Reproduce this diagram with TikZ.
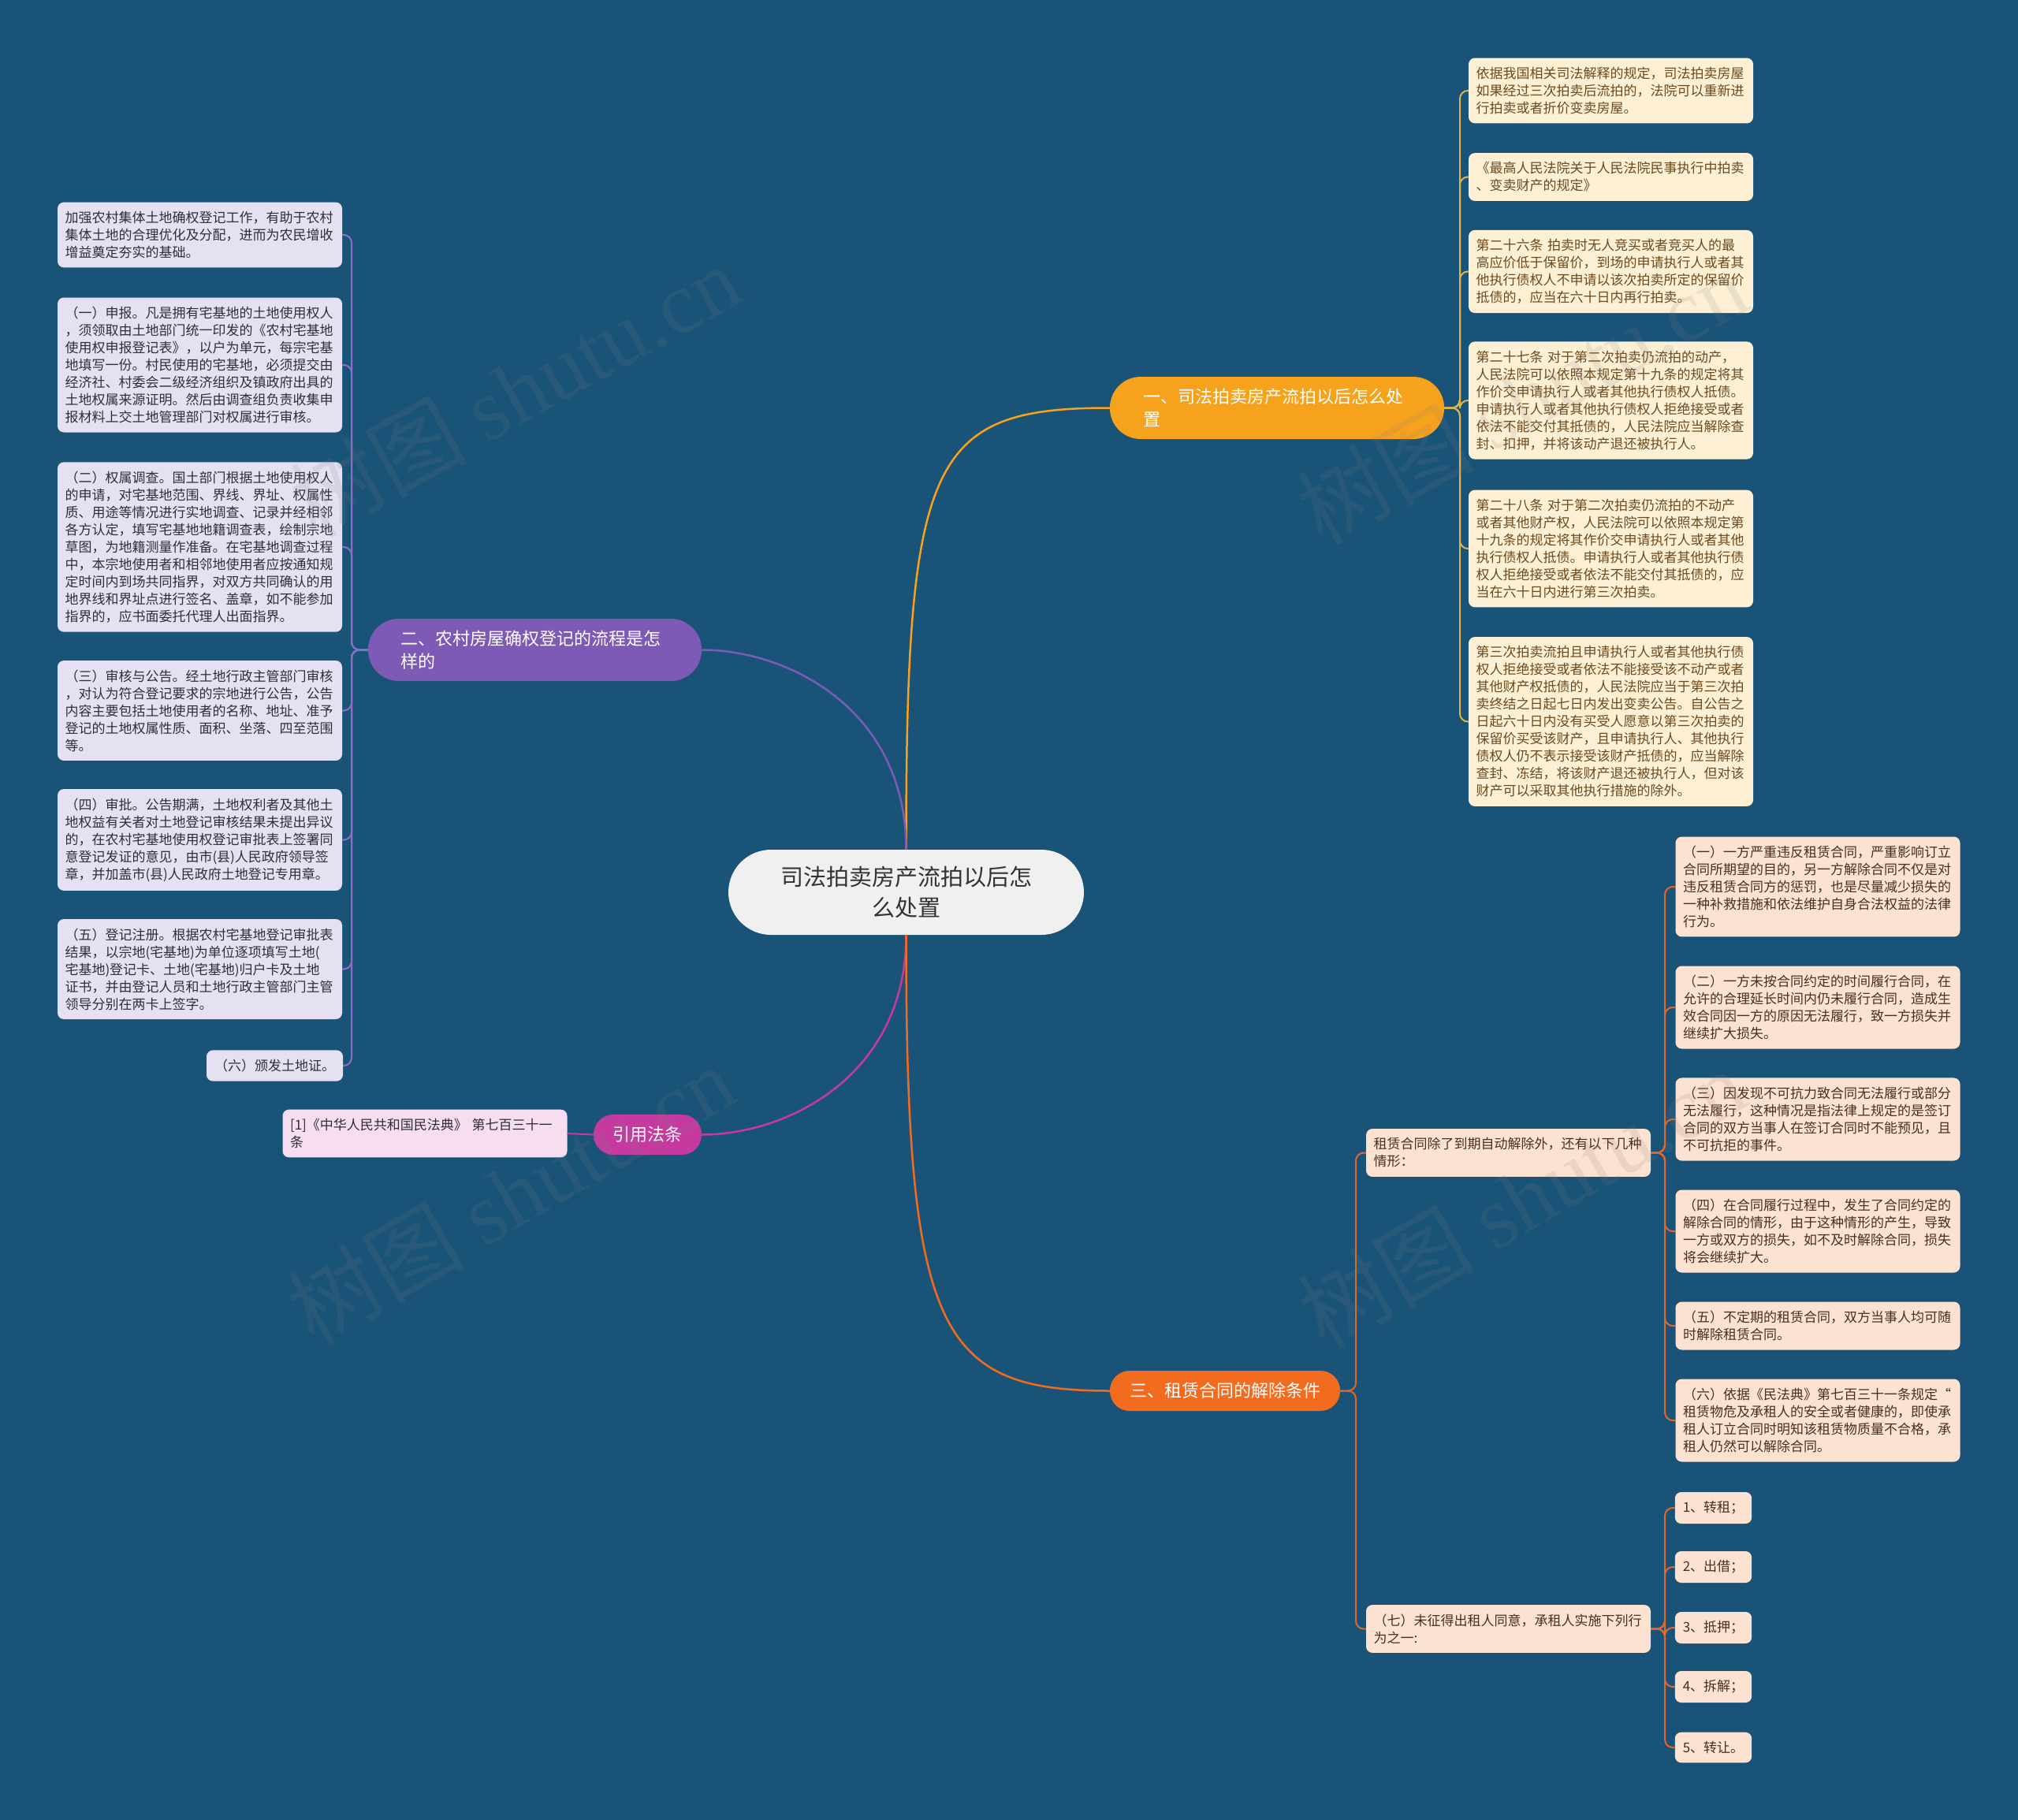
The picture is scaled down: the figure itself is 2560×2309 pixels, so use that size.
\documentclass[tikz,border=0pt]{standalone}
\usepackage{fontspec}
\setmainfont{Noto Sans CJK SC}
\newfontfamily\wmserif{Liberation Serif}
\definecolor{bg}{HTML}{1A5378}
\definecolor{brO}{HTML}{F7A21C}
\definecolor{brP}{HTML}{7D5AB5}
\definecolor{brM}{HTML}{C53A9F}
\definecolor{brR}{HTML}{F26B1F}
\definecolor{lnO}{HTML}{DDB54A}
\definecolor{lnP}{HTML}{8E6CC8}
\definecolor{lnR}{HTML}{E5662A}
\definecolor{lfO}{HTML}{FDF0D5}
\definecolor{lfP}{HTML}{E6E1F2}
\definecolor{lfM}{HTML}{F6DDEF}
\definecolor{lfR}{HTML}{FDE2D1}
\definecolor{txO}{HTML}{6B4A1E}
\definecolor{txP}{HTML}{2E2E3A}
\definecolor{txR}{HTML}{4B2E1E}
\definecolor{ctr}{HTML}{F0F0F0}
\begin{document}
\begin{tikzpicture}[x=1pt,y=-1pt,
  leafbase/.style={rounded corners=8pt, inner xsep=9.5pt, inner ysep=11.5pt, text width=342pt, align=left, font=\fontsize{17pt}{22pt}\selectfont, anchor=center},
  leafO/.style={leafbase, fill=lfO, text=txO},
  leafP/.style={leafbase, fill=lfP, text=txP},
  leafM/.style={leafbase, fill=lfM, text=txP},
  leafR/.style={leafbase, fill=lfR, text=txR},
  smallR/.style={leafR, text width=, minimum width=97pt, inner xsep=10pt, align=left},
  branch/.style={text=white, font=\fontsize{22pt}{29pt}\selectfont, inner sep=0pt, anchor=center},
  centerbox/.style={fill=ctr, text=black!80, rounded corners=54pt, minimum width=451pt, minimum height=108pt, align=center, inner sep=0pt, font=\fontsize{29pt}{39pt}\selectfont},
  mainline/.style={line width=2.5pt},
  leafline/.style={line width=2pt, rounded corners=10pt},
  wm/.style={text=gray, opacity=0.15, font=\fontsize{112pt}{118pt}\selectfont, inner sep=0pt}
]
\useasboundingbox (0,0) rectangle (2560,2309);
\fill[bg] (0,0) rectangle (2560,2309);

% center
\node[centerbox] (C) at (1149.5,1132) {司法拍卖房产流拍以后怎\\么处置};

% branches
\node[branch, fill=brO, text width=340pt, align=left, minimum width=424pt, minimum height=79pt, rounded corners=39pt] (B1) at (1620,517.5) {一、司法拍卖房产流拍以后怎么处\\置};
\node[branch, fill=brP, text width=340pt, align=left, minimum width=423pt, minimum height=79pt, rounded corners=39pt] (B2) at (678.5,824.5) {二、农村房屋确权登记的流程是怎\\样的};
\node[branch, fill=brM, minimum width=137pt, minimum height=51pt, rounded corners=25pt] (B4) at (821.5,1439.5) {引用法条};
\node[branch, fill=brR, minimum width=292pt, minimum height=51pt, rounded corners=25pt] (B3) at (1554,1764.5) {三、租赁合同的解除条件};

% main connectors
\draw[mainline, brO] (C.north) .. controls (1149.5,580) and (1180,517.5) .. (B1.west);
\draw[mainline, brP] (C.north) .. controls (1149.5,900) and (1000,824.5) .. (B2.east);
\draw[mainline, brM] (C.south) .. controls (1149.5,1364) and (1000,1439.5) .. (B4.east);
\draw[mainline, brR] (C.south) .. controls (1149.5,1690) and (1190,1764.5) .. (B3.west);

% orange leaves
\node[leafO] (L1) at (2043.5,115) {依据我国相关司法解释的规定，司法拍卖房屋\\如果经过三次拍卖后流拍的，法院可以重新进\\行拍卖或者折价变卖房屋。};
\node[leafO] (L2) at (2043.5,224.5) {《最高人民法院关于人民法院民事执行中拍卖\\、变卖财产的规定》};
\node[leafO] (L3) at (2043.5,344.5) {第二十六条 拍卖时无人竞买或者竞买人的最\\高应价低于保留价，到场的申请执行人或者其\\他执行债权人不申请以该次拍卖所定的保留价\\抵债的，应当在六十日内再行拍卖。};
\node[leafO] (L4) at (2043.5,508) {第二十七条 对于第二次拍卖仍流拍的动产，\\人民法院可以依照本规定第十九条的规定将其\\作价交申请执行人或者其他执行债权人抵债。\\申请执行人或者其他执行债权人拒绝接受或者\\依法不能交付其抵债的，人民法院应当解除查\\封、扣押，并将该动产退还被执行人。};
\node[leafO] (L5) at (2043.5,696) {第二十八条 对于第二次拍卖仍流拍的不动产\\或者其他财产权，人民法院可以依照本规定第\\十九条的规定将其作价交申请执行人或者其他\\执行债权人抵债。申请执行人或者其他执行债\\权人拒绝接受或者依法不能交付其抵债的，应\\当在六十日内进行第三次拍卖。};
\node[leafO] (L6) at (2043.5,915.5) {第三次拍卖流拍且申请执行人或者其他执行债\\权人拒绝接受或者依法不能接受该不动产或者\\其他财产权抵债的，人民法院应当于第三次拍\\卖终结之日起七日内发出变卖公告。自公告之\\日起六十日内没有买受人愿意以第三次拍卖的\\保留价买受该财产，且申请执行人、其他执行\\债权人仍不表示接受该财产抵债的，应当解除\\查封、冻结，将该财产退还被执行人，但对该\\财产可以采取其他执行措施的除外。};
\foreach \n in {L1,L2,L3,L4,L5,L6}
  \draw[leafline, lnO] (B1.east) -- (1852,517.5) |- (\n.west);

% purple leaves
\node[leafP] (P1) at (253.5,298) {加强农村集体土地确权登记工作，有助于农村\\集体土地的合理优化及分配，进而为农民增收\\增益奠定夯实的基础。};
\node[leafP] (P2) at (253.5,463) {（一）申报。凡是拥有宅基地的土地使用权人\\，须领取由土地部门统一印发的《农村宅基地\\使用权申报登记表》，以户为单元，每宗宅基\\地填写一份。村民使用的宅基地，必须提交由\\经济社、村委会二级经济组织及镇政府出具的\\土地权属来源证明。然后由调查组负责收集申\\报材料上交土地管理部门对权属进行审核。};
\node[leafP] (P3) at (253.5,694) {（二）权属调查。国土部门根据土地使用权人\\的申请，对宅基地范围、界线、界址、权属性\\质、用途等情况进行实地调查、记录并经相邻\\各方认定，填写宅基地地籍调查表，绘制宗地\\草图，为地籍测量作准备。在宅基地调查过程\\中，本宗地使用者和相邻地使用者应按通知规\\定时间内到场共同指界，对双方共同确认的用\\地界线和界址点进行签名、盖章，如不能参加\\指界的，应书面委托代理人出面指界。};
\node[leafP] (P4) at (253.5,901.5) {（三）审核与公告。经土地行政主管部门审核\\，对认为符合登记要求的宗地进行公告，公告\\内容主要包括土地使用者的名称、地址、准予\\登记的土地权属性质、面积、坐落、四至范围\\等。};
\node[leafP] (P5) at (253.5,1065.5) {（四）审批。公告期满，土地权利者及其他土\\地权益有关者对土地登记审核结果未提出异议\\的，在农村宅基地使用权登记审批表上签署同\\意登记发证的意见，由市(县)人民政府领导签\\章，并加盖市(县)人民政府土地登记专用章。};
\node[leafP] (P6) at (253.5,1229.5) {（五）登记注册。根据农村宅基地登记审批表\\结果，以宗地(宅基地)为单位逐项填写土地(\\宅基地)登记卡、土地(宅基地)归户卡及土地\\证书，并由登记人员和土地行政主管部门主管\\领导分别在两卡上签字。};
\node[leafP, text width=, minimum width=171pt, inner xsep=10pt] (P7) at (348.5,1352) {（六）颁发土地证。};
\foreach \n in {P1,P2,P3,P4,P5,P6,P7}
  \draw[leafline, lnP] (B2.west) -- (446,824.5) |- (\n.east);

% magenta leaf
\node[leafM] (ML) at (539,1438) {[1]《中华人民共和国民法典》 第七百三十一\\条};
\draw[line width=2pt, brM] (B4.west) -- (ML.east);

% red branch
\node[leafR] (M1) at (1913.5,1462.5) {租赁合同除了到期自动解除外，还有以下几种\\情形：};
\node[leafR] (M2) at (1913.5,2066.5) {（七）未征得出租人同意，承租人实施下列行\\为之一:};
\foreach \n in {M1,M2}
  \draw[leafline, lnR] (B3.east) -- (1720,1764.5) |- (\n.west);

\node[leafR] (R1) at (2306,1125) {（一）一方严重违反租赁合同，严重影响订立\\合同所期望的目的，另一方解除合同不仅是对\\违反租赁合同方的惩罚，也是尽量减少损失的\\一种补救措施和依法维护自身合法权益的法律\\行为。};
\node[leafR] (R2) at (2306,1278) {（二）一方未按合同约定的时间履行合同，在\\允许的合理延长时间内仍未履行合同，造成生\\效合同因一方的原因无法履行，致一方损失并\\继续扩大损失。};
\node[leafR] (R3) at (2306,1420) {（三）因发现不可抗力致合同无法履行或部分\\无法履行，这种情况是指法律上规定的是签订\\合同的双方当事人在签订合同时不能预见，且\\不可抗拒的事件。};
\node[leafR] (R4) at (2306,1562) {（四）在合同履行过程中，发生了合同约定的\\解除合同的情形，由于这种情形的产生，导致\\一方或双方的损失，如不及时解除合同，损失\\将会继续扩大。};
\node[leafR] (R5) at (2306,1682) {（五）不定期的租赁合同，双方当事人均可随\\时解除租赁合同。};
\node[leafR] (R6) at (2306,1802) {（六）依据《民法典》第七百三十一条规定“\\租赁物危及承租人的安全或者健康的，即使承\\租人订立合同时明知该租赁物质量不合格，承\\租人仍然可以解除合同。};
\foreach \n in {R1,R2,R3,R4,R5,R6}
  \draw[leafline, lnR] (M1.east) -- (2112,1462.5) |- (\n.west);

\node[smallR] (S1) at (2173.5,1913) {1、转租；};
\node[smallR] (S2) at (2173.5,1988) {2、出借；};
\node[smallR] (S3) at (2173.5,2065) {3、抵押；};
\node[smallR] (S4) at (2173.5,2140) {4、拆解；};
\node[smallR] (S5) at (2173.5,2217) {5、转让。};
\foreach \n in {S1,S2,S3,S4,S5}
  \draw[leafline, lnR] (M2.east) -- (2112,2066.5) |- (\n.west);

% watermarks
\node[wm, rotate=29] (W1) at (653,495) {树图 {\wmserif shutu.cn}};
\node[wm, rotate=29] (W2) at (1930,505) {树图 {\wmserif shutu.cn}};
\node[wm, rotate=30] (W3) at (648,1515) {树图 {\wmserif shutu.cn}};
\node[wm, rotate=30] (W4) at (1930,1520) {树图 {\wmserif shutu.cn}};
\end{tikzpicture}
\end{document}
